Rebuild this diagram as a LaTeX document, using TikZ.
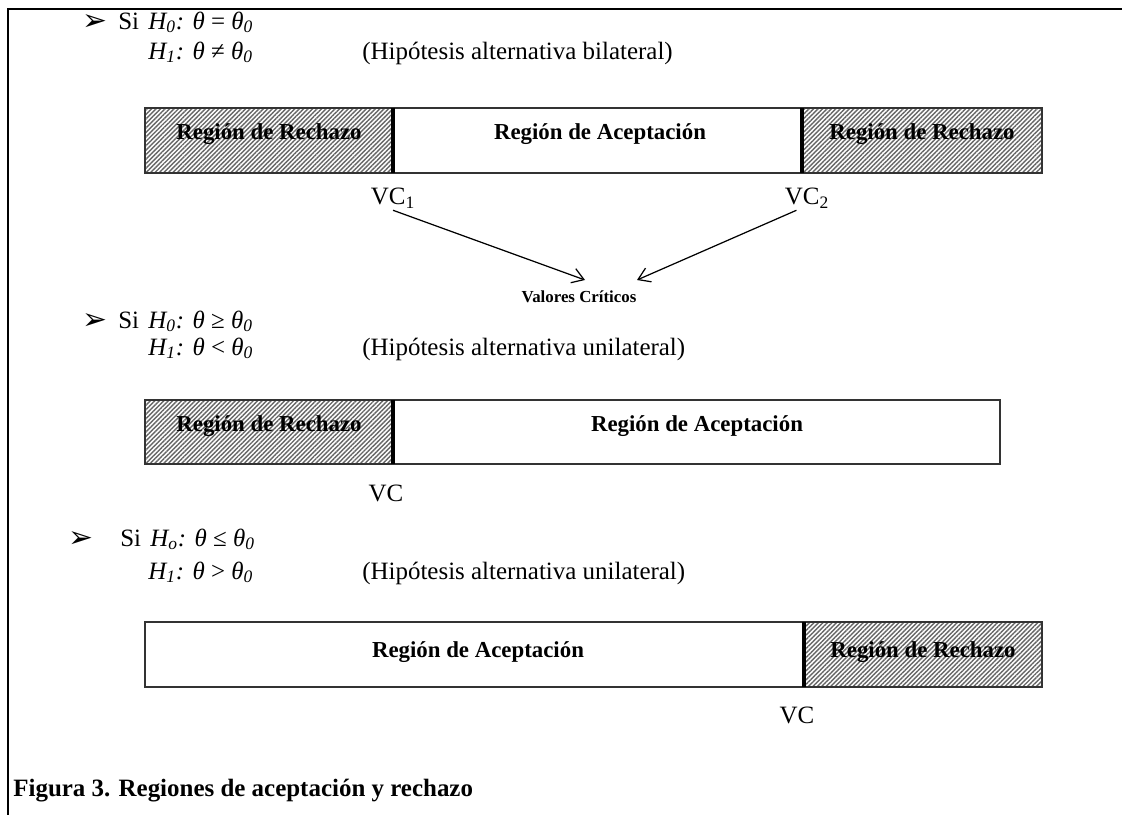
\documentclass[tikz,border=0pt]{standalone}
\usepackage{fontspec}
\setmainfont{Liberation Serif}
\newfontfamily\dingfont{DejaVu Sans}
\usetikzlibrary{arrows.meta, patterns.meta}
\tikzstyle{frame} = [line width=1.2pt, black]
\tikzstyle{bar} = [draw=black!80, line width=0.8pt]
\tikzstyle{rechazo} = [pattern={Lines[angle=45, distance=1.8pt, line width=0.8pt]}, pattern color=black!60]
\tikzstyle{divider} = [line width=1.8pt, black]
\tikzstyle{region} = [font=\fontsize{13}{15}\selectfont\bfseries]
\tikzstyle{txt} = [font=\fontsize{14.2}{16}\selectfont, anchor=base west, inner sep=0pt]
\tikzstyle{vc} = [font=\fontsize{14.2}{16}\selectfont, inner sep=1pt]
\tikzstyle{bullet} = [font=\dingfont\fontsize{17}{19}\selectfont, inner sep=0pt, anchor=base west]
\tikzstyle{arrow} = [line width=0.7pt, -{Straight Barb[length=6.5pt, width=8.5pt]}]
\newcommand{\hyp}[3]{\textit{H\textsubscript{#1}: θ} #2 \textit{θ\textsubscript{#3}}}

\begin{document}
\begin{tikzpicture}[x=0.02cm, y=-0.02cm]
\fill[white] (0,0) rectangle (1122,815);
\useasboundingbox (0,0) rectangle (1122,815);
\draw[frame] (1122,9) -- (8,9) -- (8,815);

% bilateral
\node (b1) [bullet] at (82,30) {➢};
\node (si1) [txt] at (118,29) {Si};
\node (h01) [txt] at (148,29) {\hyp{0}{=}{0}};
\node (h11) [txt] at (148,59) {\hyp{1}{≠}{0}};
\node (alt1) [txt] at (362,59) {(Hipótesis alternativa bilateral)};

\path[rechazo] (145,108) rectangle (393,173);
\path[rechazo] (802,108) rectangle (1042,173);
\draw[bar] (145,108) rectangle (1042,173);
\draw[divider] (393,108) -- (393,173);
\draw[divider] (802,108) -- (802,173);
\node (r1a) [region] at (269,134) {Región de Rechazo};
\node (a1) [region] at (600,134) {Región de Aceptación};
\node (r1b) [region] at (922,134) {Región de Rechazo};

\node (vc1) [vc] at (393,198) {VC\textsubscript{1}};
\node (vc2) [vc] at (807,198) {VC\textsubscript{2}};
\node (valores) [font=\fontsize{9.6}{12}\selectfont\bfseries] at (579,297) {Valores Críticos};
\coordinate (tip1) at (585,280);
\coordinate (tip2) at (637,280);
\draw[arrow] (vc1.south) -- (tip1);
\draw[arrow] ([xshift=-6]vc2.south) -- (tip2);

% unilateral izquierda
\node (b2) [bullet] at (82,329) {➢};
\node (si2) [txt] at (118,328) {Si};
\node (h02) [txt] at (148,328) {\hyp{0}{≥}{0}};
\node (h12) [txt] at (148,355) {\hyp{1}{<}{0}};
\node (alt2) [txt] at (362,355) {(Hipótesis alternativa unilateral)};

\path[rechazo] (145,400) rectangle (393,464);
\draw[bar] (145,400) rectangle (1000,464);
\draw[divider] (393,400) -- (393,464);
\node (r2) [region] at (269,426) {Región de Rechazo};
\node (a2) [region] at (697,426) {Región de Aceptación};
\node (vc3) [vc] at (386,493) {VC};

% unilateral derecha
\node (b3) [bullet] at (68,547) {➢};
\node (si3) [txt] at (120,546) {Si};
\node (h03) [txt] at (150,546) {\hyp{o}{≤}{0}};
\node (h13) [txt] at (148,579) {\hyp{1}{>}{0}};
\node (alt3) [txt] at (362,579) {(Hipótesis alternativa unilateral)};

\path[rechazo] (804,622) rectangle (1042,687);
\draw[bar] (145,622) rectangle (1042,687);
\draw[divider] (804,622) -- (804,687);
\node (a3) [region] at (478,652) {Región de Aceptación};
\node (r3) [region] at (923,652) {Región de Rechazo};
\node (vc4) [vc] at (797,715) {VC};

\node (fig) [txt, font=\fontsize{14.2}{16}\selectfont\bfseries] at (13,796) {Figura 3. Regiones de aceptación y rechazo};
\end{tikzpicture}
\end{document}
